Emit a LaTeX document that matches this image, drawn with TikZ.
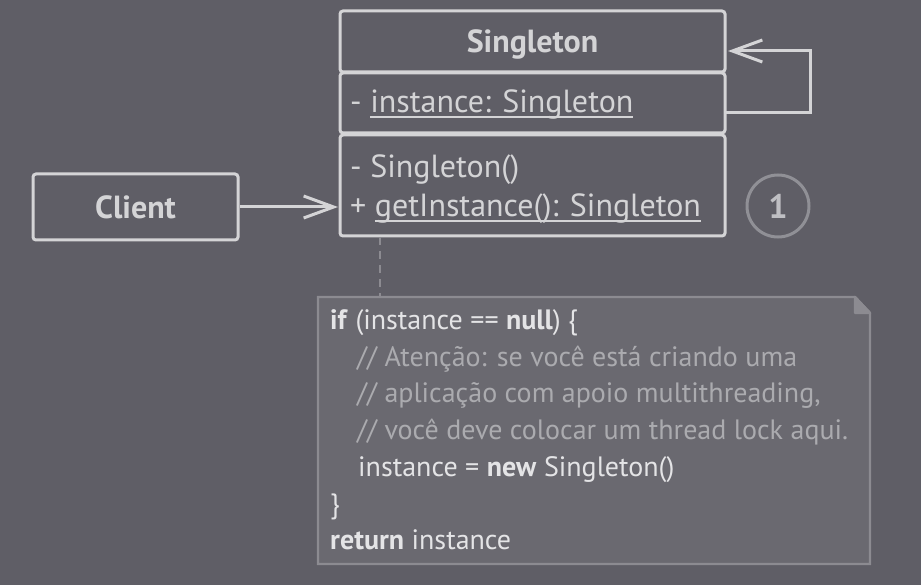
\documentclass[tikz,border=0pt]{standalone}
\usepackage{fontspec}
\setmainfont{PT Sans}
\usetikzlibrary{arrows.meta}
\definecolor{bg}{HTML}{5F5E66}
\definecolor{ln}{HTML}{D4D4D6}
\definecolor{notefill}{HTML}{6A6970}
\definecolor{noteline}{HTML}{8C8B91}
\definecolor{codetxt}{HTML}{E4E4E6}
\definecolor{cmt}{HTML}{ABABAF}
\definecolor{circ}{HTML}{909096}
\definecolor{circtxt}{HTML}{BFBFC3}
\newcommand\myul[1]{\setbox0\hbox{#1}\rlap{\rule[-5pt]{\wd0}{1.8pt}}\box0}
\tikzset{
  cls/.style={draw=ln, line width=3pt, rounded corners=3pt, inner sep=0pt},
  ctext/.style={text=ln, font=\fontsize{32}{34}\selectfont, anchor=base west, inner sep=0pt},
  title/.style={text=ln, font=\bfseries\fontsize{32}{34}\selectfont, anchor=base, inner sep=0pt},
  conn/.style={draw=ln, line width=3pt, -{Straight Barb[length=30pt, width=22pt, line width=3pt]}},
  code/.style={text=codetxt, font=\fontsize{28}{30}\selectfont, anchor=base west, inner sep=0pt},
  cmtx/.style={text=cmt, font=\fontsize{28}{30}\selectfont, anchor=base west, inner sep=0pt},
}
\begin{document}
\begin{tikzpicture}[x=1pt,y=-1pt]
\fill[bg] (0,0) rectangle (921,585);
\useasboundingbox (0,0) rectangle (921,585);
% Singleton class
\path[cls] (340,11) rectangle (725,72);
\path[cls] (340,73) rectangle (725,133);
\path[cls] (340,135) rectangle (725,236);
\node[title] (tsing) at (532.5,53) {Singleton};
\node[ctext] (attr) at (350,113) {- \myul{instance: Singleton}};
\node[ctext] (m1) at (350,178) {- Singleton()};
\node[ctext] (m2) at (350,217) {+ \myul{getInstance(): Singleton}};
% self loop
\coordinate (la) at (725,113);
\coordinate (lb) at (810,113);
\coordinate (lc) at (810,51);
\coordinate (ld) at (728,51);
\draw[conn] (la) -- (lb) -- (lc) -- (ld);
% Client
\node[cls, minimum width=205pt, minimum height=66pt, text=ln, font=\bfseries\fontsize{32}{34}\selectfont] (client) at (135.5,207) {Client};
\coordinate (sm) at (338,207);
\draw[conn] (client.east) -- (sm);
% circle 1
\node[draw=circ, line width=3pt, circle, minimum size=62pt, inner sep=0pt, text=circtxt, font=\bfseries\fontsize{34}{36}\selectfont] (one) at (778,206) {1};
% note
\path[draw=noteline, fill=notefill, line width=2.4pt] (318,297) -- (855,297) -- (870,313) -- (870,564) -- (318,564) -- cycle;
\path[draw=noteline, fill=noteline, line width=2.4pt, line join=round] (855,297) -- (855,313) -- (870,313) -- cycle;
\coordinate (ntop) at (380,297);
\coordinate (cbot) at (380,237);
\draw[noteline, line width=2.4pt, dash pattern=on 8pt off 6pt] (cbot) -- (ntop);
\node[code] (l1) at (330,330) {\textbf{if} (instance == \textbf{null}) \{};
\node[cmtx] (l2) at (357,366) {// Atenção: se você está criando uma};
\node[cmtx] (l3) at (357,402) {// aplicação com apoio multithreading,};
\node[cmtx] (l4) at (357,439) {// você deve colocar um thread lock aqui.};
\node[code] (l5) at (358,476) {instance = \textbf{new} Singleton()};
\node[code] (l6) at (330,513) {\}};
\node[code] (l7) at (330,549) {\textbf{return} instance};
\end{tikzpicture}
\end{document}
